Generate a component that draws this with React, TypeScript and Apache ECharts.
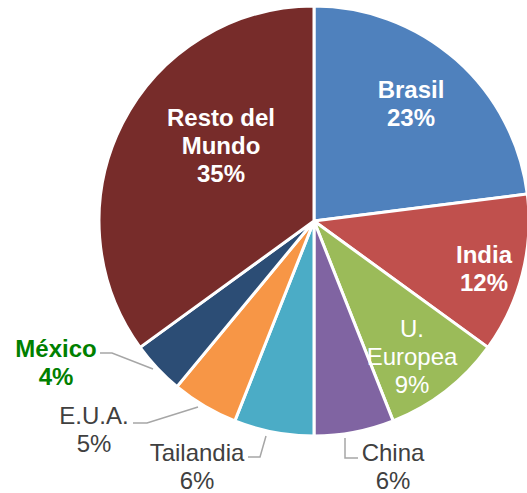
import React, { useEffect, useRef } from 'react';
import * as echarts from 'echarts';

const categories = ['Brasil', 'India', 'U. Europea', 'China', 'Tailandia', 'E.U.A.', 'México', 'Resto del Mundo'];
const labelNames = ['Brasil', 'India', 'U.\nEuropea', 'China', 'Tailandia', 'E.U.A.', 'México', 'Resto del\nMundo'];
const shares = [23, 12, 9, 6, 6, 5, 4, 35];

const colors = ['#4F81BD', '#C0504D', '#9BBB59', '#8064A2', '#4BACC6', '#F79646', '#2C4D75', '#772C2A'];
const insideLabel = [true, true, true, false, false, false, false, true];
const boldLabel = [true, true, false, false, false, false, true, true];
const labelColors = ['#FFFFFF', '#FFFFFF', '#FFFFFF', '#404040', '#404040', '#404040', '#008000', '#FFFFFF'];
const labelPositions: number[][] = [
  [411, 103], [484, 268], [412, 356], [393, 466], [197, 466], [94, 429], [56, 362], [221, 145],
];
const leaderLines: (number[][] | null)[] = [
  null, null, null,
  [[345, 438], [345, 458], [358, 458]],
  [[266, 436], [260, 457], [248, 457]],
  [[198, 407], [147, 423], [133, 423]],
  [[153, 369], [112, 353], [100, 353]],
  null,
];

export default function App() {
  const ref = useRef<HTMLDivElement>(null);
  useEffect(() => {
    if (!ref.current) return;
    const chart = echarts.init(ref.current, null, { renderer: 'svg' });
    const data = categories.map((name, i) => ({
      name,
      value: shares[i],
      itemStyle: { color: colors[i] },
      label: {
        position: insideLabel[i] ? 'inside' : 'outside',
        fontWeight: boldLabel[i] ? 'bold' : 'normal',
        color: labelColors[i],
      },
      labelLine: { show: !insideLabel[i] },
    }));
    chart.setOption({
      animation: false,
      backgroundColor: '#FFFFFF',
      series: [
        {
          type: 'pie',
          center: [314, 221],
          radius: [0, 215],
          startAngle: 90,
          clockwise: true,
          avoidLabelOverlap: false,
          itemStyle: { borderColor: '#FFFFFF', borderWidth: 3 },
          label: {
            show: true,
            fontFamily: '"Liberation Sans", Arial, sans-serif',
            fontSize: 24,
            lineHeight: 28,
            align: 'center',
            formatter: (p: any) => `${labelNames[p.dataIndex]}\n${shares[p.dataIndex]}%`,
          },
          labelLine: {
            lineStyle: { color: '#A6A6A6', width: 1.5 },
          },
          labelLayout: (params: any) => {
            const i = params.dataIndex;
            const p = labelPositions[i];
            const res: any = { x: p[0], y: p[1], align: 'center', verticalAlign: 'middle' };
            if (leaderLines[i]) res.labelLinePoints = leaderLines[i];
            return res;
          },
          emphasis: { disabled: true },
          data,
        },
      ],
    });
    return () => chart.dispose();
  }, []);
  return (
    <div
      ref={ref}
      style={{ position: 'absolute', left: 0, top: 0, width: 527, height: 493 }}
    />
  );
}
